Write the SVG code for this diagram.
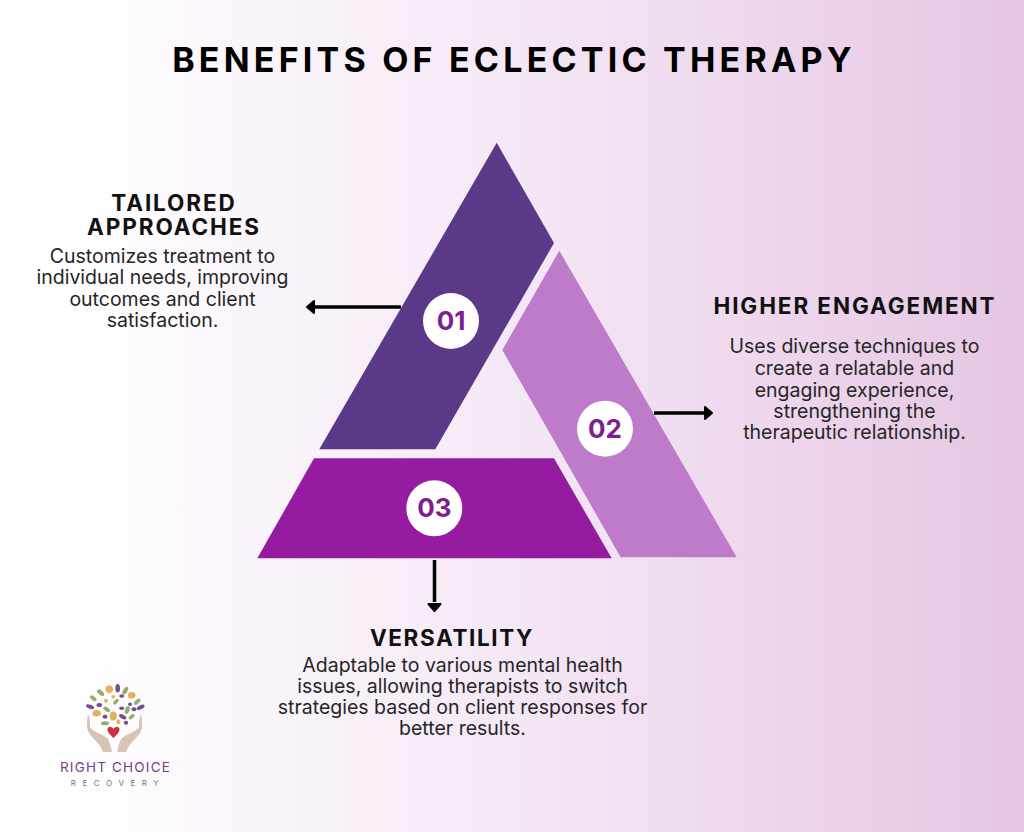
<svg xmlns="http://www.w3.org/2000/svg" width="1024" height="832" viewBox="0 0 1024 832">
<style>
text{font-family:"Inter","Liberation Sans",sans-serif;text-anchor:middle;fill:#111}
.h{font-weight:700;font-size:22.5px;letter-spacing:1.9px}
.b{font-size:19.5px;fill:#262626}
.n{font-weight:700;font-size:26px;fill:#7d1f8f}
.c{fill:#fff}
.a{stroke:#000;stroke-width:3.5;fill:none}
.t{fill:#000;stroke:#000;stroke-width:2;stroke-linejoin:round}
.g{fill:#8fb06a}.y{fill:#e3b25c}.p{fill:#7b4a8e}.hand{fill:#d8c3b4}
</style>
<defs>
<linearGradient id="bg" x1="0" x2="1" y1="0" y2="0">
<stop offset="0" stop-color="#fff"/><stop offset="0.06" stop-color="#fff"/><stop offset="0.5" stop-color="#f5e8f6"/><stop offset="1" stop-color="#e6c6e3"/>
</linearGradient>
</defs>
<rect width="1024" height="832" fill="url(#bg)"/>
<text x="514" y="71.500" style="font-weight:700;font-size:34px;letter-spacing:4.2px;fill:#000">BENEFITS OF ECLECTIC THERAPY</text>
<g id="connectors">
<path class="a" d="M401 307H314"/><path class="t" d="M307 307l7-6v12z"/>
<path class="a" d="M654 413H704"/><path class="t" d="M712 413l-7-6v12z"/>
<path class="a" d="M434.500 560V602"/><path class="t" d="M434.500 611l-6-7h12z"/>
</g>
<g id="node-01">
<polygon points="496.700,142.700 554,243 435.300,449.300 319.300,449.300" fill="#5b3989"/>
<circle class="c" cx="451" cy="321" r="28"/>
<text class="n" x="451" y="330">01</text>
<text class="h"><tspan x="174" y="210.500">TAILORED</tspan><tspan x="174" y="234.500">APPROACHES</tspan></text>
<text class="b"><tspan x="162.500" y="263">Customizes treatment to</tspan><tspan x="162.500" y="284">individual needs, improving</tspan><tspan x="162.500" y="306">outcomes and client</tspan><tspan x="162.500" y="327">satisfaction.</tspan></text>
</g>
<g id="node-02">
<polygon points="559.300,250.700 736.700,557.300 620.700,557.300 502.300,350" fill="#bd7bc9"/>
<circle class="c" cx="605" cy="428.700" r="28"/>
<text class="n" x="605" y="438">02</text>
<text class="h" x="855" y="314">HIGHER ENGAGEMENT</text>
<text class="b"><tspan x="854.500" y="353">Uses diverse techniques to</tspan><tspan x="854.500" y="375">create a relatable and</tspan><tspan x="854.500" y="397">engaging experience,</tspan><tspan x="854.500" y="418">strengthening the</tspan><tspan x="854.500" y="439">therapeutic relationship.</tspan></text>
</g>
<g id="node-03">
<polygon points="314,458.300 554,458.300 611.700,558.300 257.300,558.300" fill="#951ba0"/>
<circle class="c" cx="434.300" cy="508.300" r="28"/>
<text class="n" x="434.300" y="517">03</text>
<text class="h" x="452" y="646" style="letter-spacing:1.600px">VERSATILITY</text>
<text class="b"><tspan x="462.500" y="672">Adaptable to various mental health</tspan><tspan x="462.500" y="693">issues, allowing therapists to switch</tspan><tspan x="462.500" y="714">strategies based on client responses for</tspan><tspan x="462.500" y="735">better results.</tspan></text>
</g>
<g id="logo">
<path class="hand" d="M88 714c2 4 2 9 2 13 3 5 13 7 18 12 2 4 3 9 4 13h-9c-2-6-6-10-10-14-4-4-6-8-6-12 0-4 0-8 1-12z"/>
<path class="hand" d="M141 714c-2 4-2 9-2 13-3 5-13 7-18 12-2 4-3 9-4 13h9c2-6 6-10 10-14 4-4 6-8 6-12 0-4 0-8-1-12z"/>
<path d="M113.500 729c-2-3-6-3-6 0.500 0 3 3 5.500 6 8.500 3-3 6-5.500 6-8.500 0-3.500-4-3.500-6-0.500z" fill="#cf2f3a"/>
<ellipse class="y" cx="109.300" cy="689.300" rx="3.800" ry="3.800"/>
<ellipse class="p" cx="117.700" cy="688.300" rx="2.300" ry="4.200"/>
<ellipse class="g" cx="125.300" cy="690.700" rx="4.200" ry="2.200" transform="rotate(-60 125.300 690.700)"/>
<ellipse class="g" cx="100.700" cy="692.700" rx="4.200" ry="2.200" transform="rotate(40 100.700 692.700)"/>
<ellipse class="y" cx="131.700" cy="695.300" rx="3.800" ry="3.200"/>
<ellipse class="y" cx="113.300" cy="696.700" rx="1.800" ry="1.800"/>
<ellipse class="p" cx="121.700" cy="696" rx="2.500" ry="1.800"/>
<ellipse class="g" cx="93.300" cy="698.300" rx="3.800" ry="2" transform="rotate(40 93.300 698.300)"/>
<ellipse class="y" cx="106" cy="700.700" rx="2" ry="2"/>
<ellipse class="g" cx="116" cy="701.700" rx="3.500" ry="1.800" transform="rotate(-50 116 701.700)"/>
<ellipse class="g" cx="137.300" cy="701.700" rx="4" ry="2" transform="rotate(-45 137.300 701.700)"/>
<ellipse class="p" cx="99.300" cy="705" rx="2.800" ry="2"/>
<ellipse class="p" cx="90" cy="706.700" rx="4.200" ry="2" transform="rotate(20 90 706.700)"/>
<ellipse class="g" cx="106.700" cy="709.300" rx="3.800" ry="2" transform="rotate(35 106.700 709.300)"/>
<ellipse class="p" cx="121.700" cy="708.300" rx="2.500" ry="1.800"/>
<ellipse class="p" cx="130" cy="704.300" rx="2" ry="1.800"/>
<ellipse class="p" cx="140.700" cy="707.300" rx="4.200" ry="2" transform="rotate(-25 140.700 707.300)"/>
<ellipse class="g" cx="127.300" cy="710" rx="4" ry="2.200" transform="rotate(-70 127.300 710)"/>
<ellipse class="p" cx="134" cy="709.300" rx="2.500" ry="2"/>
<ellipse class="y" cx="96.700" cy="713.300" rx="4.200" ry="3.200"/>
<ellipse class="y" cx="113.300" cy="716" rx="3.500" ry="4.500"/>
<ellipse class="p" cx="105" cy="716.700" rx="2.500" ry="2"/>
<ellipse class="p" cx="122.700" cy="716.700" rx="4" ry="2" transform="rotate(30 122.700 716.700)"/>
<ellipse class="g" cx="131.700" cy="716.700" rx="3.500" ry="1.800" transform="rotate(-40 131.700 716.700)"/>
<ellipse class="g" cx="105" cy="723.300" rx="4" ry="2"/>
<ellipse class="y" cx="118.300" cy="721.700" rx="2" ry="2.500"/>
<ellipse class="p" cx="126" cy="722.700" rx="2.200" ry="2"/>
<text x="115.500" y="772" style="font-size:13.500px;letter-spacing:1.200px;fill:#7a3d8c">RIGHT CHOICE</text>
<text x="118" y="786" style="font-size:8px;letter-spacing:6.500px;fill:#777">RECOVERY</text>
</g>
</svg>
